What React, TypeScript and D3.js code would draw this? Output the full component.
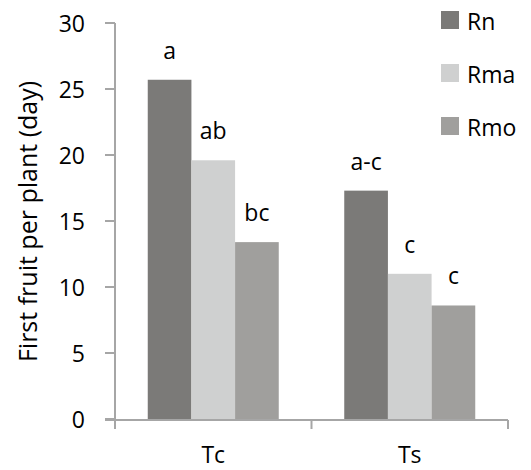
import React from "react";
import * as d3 from "d3";

const groups = ["Tc", "Ts"];
const series = ["Rn", "Rma", "Rmo"];
const colors = ["#7b7a78", "#cfd0d0", "#a09f9d"];
const values = [
  [25.7, 19.6, 13.4],
  [17.3, 11.0, 8.6],
];
const letters = [
  ["a", "ab", "bc"],
  ["a-c", "c", "c"],
];
const yTicks = [0, 5, 10, 15, 20, 25, 30];

const W = 531;
const H = 470;
const left = 115;
const right = 508;
const top = 23;
const bottom = 420;
const font = "'Open Sans', 'DejaVu Sans', sans-serif";
const axisColor = "#a6a6a6";

export default function App() {
  const y = d3.scaleLinear().domain([0, 30]).range([bottom - 1, top]);
  const x0 = d3.scaleBand<string>().domain(groups).range([left, right]).paddingInner(0).paddingOuter(0);
  const x1 = d3
    .scaleBand<string>()
    .domain(series)
    .range([0, x0.bandwidth()])
    .paddingInner(0)
    .paddingOuter(0.75);

  return (
    <svg width={W} height={H} style={{ position: "absolute", left: 0, top: 0 }} fontFamily={font}>
      {groups.map((g, gi) =>
        series.map((s, si) => {
          const v = values[gi][si];
          const bx = (x0(g) ?? 0) + (x1(s) ?? 0);
          return (
            <g key={g + s}>
              <rect x={bx} y={y(v)} width={x1.bandwidth()} height={y(0) - y(v)} fill={colors[si]} />
              <text
                x={bx + x1.bandwidth() / 2}
                y={y(v) - 21}
                textAnchor="middle"
                fontSize={23}
                fill="#000"
              >
                {letters[gi][si]}
              </text>
            </g>
          );
        })
      )}
      {/* y axis */}
      <line x1={left} x2={left} y1={top} y2={bottom + 9} stroke={axisColor} strokeWidth={2} />
      {yTicks.map((t) => (
        <g key={t}>
          <line x1={left - 10} x2={left} y1={y(t)} y2={y(t)} stroke={axisColor} strokeWidth={2} />
          <text x={left - 30} y={y(t) + 8.5} textAnchor="end" fontSize={23} fill="#000">
            {t}
          </text>
        </g>
      ))}
      {/* x axis */}
      <line x1={left - 10} x2={right} y1={bottom} y2={bottom} stroke={axisColor} strokeWidth={2} />
      {[...groups.map((g) => x0(g) ?? 0), right].map((p, i) => (
        <line key={i} x1={p} x2={p} y1={bottom} y2={bottom + 9} stroke={axisColor} strokeWidth={2} />
      ))}
      {groups.map((g) => (
        <text
          key={g}
          x={(x0(g) ?? 0) + x0.bandwidth() / 2}
          y={463}
          textAnchor="middle"
          fontSize={23}
          fill="#000"
        >
          {g}
        </text>
      ))}
      <text
        transform={`translate(37,${(top + bottom) / 2}) rotate(-90)`}
        textAnchor="middle"
        fontSize={25}
        fill="#000"
      >
        First fruit per plant (day)
      </text>
      {/* legend */}
      {series.map((s, i) => (
        <g key={s} transform={`translate(441,${11 + i * 53})`}>
          <rect width={18} height={18} fill={colors[i]} />
          <text x={26} y={19} fontSize={23} fill="#000">
            {s}
          </text>
        </g>
      ))}
    </svg>
  );
}
